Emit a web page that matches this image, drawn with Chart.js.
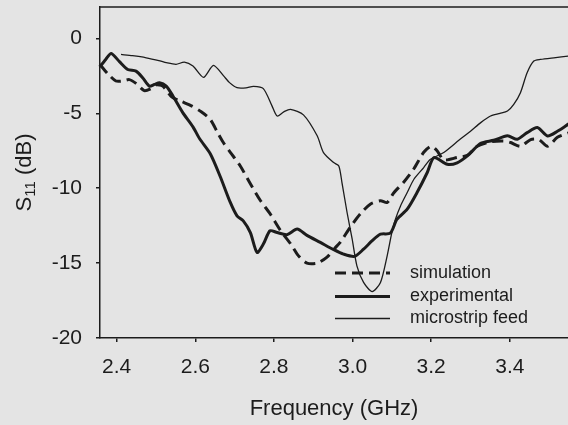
<!DOCTYPE html>
<html>
<head>
<meta charset="utf-8">
<script src="https://cdn.jsdelivr.net/npm/chart.js@4.4.1/dist/chart.umd.min.js"></script>
<style>
  html, body { margin: 0; padding: 0; background: #e4e4e4; }
  #wrap { width: 568px; height: 425px; position: relative; }
</style>
</head>
<body>
<div id="wrap"><canvas id="c" width="568" height="425"></canvas></div>
<script>
// ---- data ----
const seriesNames = ['simulation', 'experimental', 'microstrip feed'];
const xTickValues = [2.4, 2.6, 2.8, 3.0, 3.2, 3.4];
const yTickValues = [-20, -15, -10, -5, 0];

const freqSim = [2.357, 2.377, 2.398, 2.415, 2.432, 2.449, 2.47, 2.487, 2.5, 2.517, 2.54, 2.562, 2.59, 2.615, 2.638, 2.655, 2.67, 2.689, 2.714, 2.74, 2.765, 2.79, 2.816, 2.842, 2.862, 2.884, 2.91, 2.935, 2.955, 2.969, 2.994, 3.02, 3.045, 3.071, 3.088, 3.105, 3.13, 3.156, 3.181, 3.2, 3.215, 3.232, 3.266, 3.292, 3.317, 3.351, 3.385, 3.402, 3.427, 3.453, 3.474, 3.496, 3.521, 3.55];
const s11Sim  = [-1.73, -2.35, -2.84, -2.84, -2.75, -3.0, -3.48, -3.35, -3.1, -3.18, -3.9, -4.18, -4.5, -4.9, -5.4, -6.2, -6.9, -7.6, -8.5, -9.7, -10.8, -11.7, -12.8, -13.7, -14.5, -15.0, -15.0, -14.6, -14.0, -13.6, -12.6, -11.7, -11.07, -10.84, -10.95, -10.3, -9.6, -8.7, -7.6, -7.2, -7.5, -8.1, -7.95, -7.8, -7.2, -6.9, -6.85, -6.95, -7.2, -6.75, -6.75, -7.2, -6.6, -6.3];

const freqExp = [2.357, 2.372, 2.386, 2.407, 2.428, 2.449, 2.466, 2.483, 2.496, 2.509, 2.526, 2.543, 2.568, 2.594, 2.611, 2.638, 2.663, 2.689, 2.706, 2.722, 2.74, 2.757, 2.773, 2.79, 2.808, 2.833, 2.859, 2.884, 2.918, 2.952, 2.977, 3.005, 3.028, 3.05, 3.071, 3.096, 3.113, 3.139, 3.164, 3.19, 3.207, 3.241, 3.266, 3.292, 3.326, 3.359, 3.394, 3.419, 3.444, 3.47, 3.496, 3.521, 3.55];
const s11Exp  = [-1.9, -1.4, -1.0, -1.55, -2.07, -2.18, -2.62, -3.18, -3.07, -2.95, -3.18, -3.84, -4.95, -5.9, -6.7, -7.7, -9.2, -10.95, -11.84, -12.18, -12.96, -14.29, -13.73, -12.84, -12.96, -13.1, -12.73, -13.15, -13.62, -14.1, -14.4, -14.55, -14.07, -13.5, -13.07, -13.0, -12.07, -11.4, -10.29, -8.95, -7.95, -8.4, -8.3, -7.84, -7.0, -6.8, -6.5, -6.73, -6.29, -5.95, -6.51, -6.2, -5.7];

const freqMs = [2.411, 2.44, 2.475, 2.51, 2.526, 2.551, 2.572, 2.594, 2.621, 2.646, 2.672, 2.687, 2.706, 2.729, 2.748, 2.773, 2.795, 2.808, 2.825, 2.842, 2.875, 2.91, 2.926, 2.952, 2.965, 2.973, 2.986, 2.999, 3.011, 3.028, 3.05, 3.071, 3.088, 3.1, 3.109, 3.122, 3.139, 3.156, 3.181, 3.198, 3.232, 3.275, 3.3, 3.326, 3.351, 3.375, 3.394, 3.41, 3.427, 3.444, 3.461, 3.478, 3.512, 3.55];
const s11Ms  = [-1.07, -1.15, -1.29, -1.5, -1.62, -1.73, -1.58, -1.84, -2.6, -1.8, -2.5, -2.95, -3.29, -3.3, -3.2, -3.35, -4.5, -5.18, -4.9, -4.73, -5.1, -6.5, -7.62, -8.29, -8.51, -9.62, -11.62, -13.4, -15.18, -16.29, -16.9, -16.29, -14.51, -12.95, -12.07, -11.18, -10.29, -9.4, -8.62, -8.07, -7.62, -6.7, -6.2, -5.62, -5.18, -5.0, -4.84, -4.4, -3.62, -2.29, -1.51, -1.4, -1.29, -1.18];

// ---- build ----
const INK = '#1c1c1c';
const FONT = '"Liberation Sans", Arial, sans-serif';
const pts = (xs, ys) => xs.map((x, i) => ({ x: x, y: ys[i] }));

const styles = [
  { borderWidth: 3, borderDash: [11, 6] },
  { borderWidth: 3, borderDash: [] },
  { borderWidth: 1.3, borderDash: [] }
];
const dataSets = [pts(freqSim, s11Sim), pts(freqExp, s11Exp), pts(freqMs, s11Ms)];

const datasets = seriesNames.map((name, i) => ({
  label: name,
  data: dataSets[i],
  borderColor: INK,
  borderWidth: styles[i].borderWidth,
  borderDash: styles[i].borderDash,
  pointRadius: 0,
  tension: 0.25,
  fill: false,
  clip: 2
}));

const bgPlugin = {
  id: 'bg',
  beforeDraw(chart) {
    const ctx = chart.ctx;
    ctx.save();
    ctx.fillStyle = '#e4e4e4';
    ctx.fillRect(0, 0, chart.width, chart.height);
    ctx.restore();
  },
  afterDraw(chart) {
    const { ctx, chartArea } = chart;
    ctx.save();
    // top border
    ctx.strokeStyle = INK;
    ctx.lineWidth = 1.5;
    ctx.beginPath();
    ctx.moveTo(chartArea.left, chartArea.top);
    ctx.lineTo(chartArea.right, chartArea.top);
    ctx.stroke();

    // y-axis title with subscript
    ctx.fillStyle = INK;
    ctx.translate(31, (chartArea.top + chartArea.bottom) / 2);
    ctx.rotate(-Math.PI / 2);
    ctx.textBaseline = 'alphabetic';
    const big = '22px ' + FONT;
    const small = '15px ' + FONT;
    ctx.font = big;
    const wS = ctx.measureText('S').width;
    const wRest = ctx.measureText(' (dB)').width;
    ctx.font = small;
    const wSub = ctx.measureText('11').width;
    const x0 = -(wS + wSub + wRest) / 2;
    ctx.font = big;
    ctx.fillText('S', x0, 0);
    ctx.font = small;
    ctx.fillText('11', x0 + wS, 4);
    ctx.font = big;
    ctx.fillText(' (dB)', x0 + wS + wSub, 0);
    ctx.restore();

    // legend
    ctx.save();
    const rowsY = [273, 296.5, 318.5];
    const lx0 = chartArea.right - 233, lx1 = chartArea.right - 178, tx = chartArea.right - 158;
    chart.data.datasets.forEach((ds, i) => {
      ctx.strokeStyle = ds.borderColor;
      ctx.lineWidth = ds.borderWidth;
      ctx.setLineDash(ds.borderDash || []);
      ctx.beginPath();
      ctx.moveTo(lx0, rowsY[i]);
      ctx.lineTo(lx1, rowsY[i]);
      ctx.stroke();
      ctx.setLineDash([]);
      ctx.fillStyle = INK;
      ctx.font = '18px ' + FONT;
      ctx.textBaseline = 'middle';
      ctx.textAlign = 'left';
      ctx.fillText(ds.label, tx, rowsY[i]);
    });
    ctx.restore();
  }
};

new Chart(document.getElementById('c'), {
  type: 'line',
  data: { datasets: datasets },
  plugins: [bgPlugin],
  options: {
    responsive: false,
    animation: false,
    devicePixelRatio: 1,
    layout: { padding: { top: 7, right: 0, left: 0, bottom: 0 } },
    plugins: { legend: { display: false }, tooltip: { enabled: false } },
    scales: {
      x: {
        type: 'linear',
        min: 2.3575,
        max: 3.548,
        afterBuildTicks(scale) { scale.ticks = xTickValues.map(v => ({ value: v })); },
        afterFit(scale) { scale.height = 87; scale.paddingLeft = 0; scale.paddingRight = 0; },
        ticks: {
          callback: v => Number(v).toFixed(1),
          color: INK,
          font: { family: FONT, size: 21 },
          padding: 13,
          maxRotation: 0,
          autoSkip: false
        },
        grid: { drawOnChartArea: false, drawTicks: true, tickLength: 4, color: INK, lineWidth: 1.5 },
        border: { display: true, color: INK, width: 1.5 },
        title: {
          display: true,
          text: 'Frequency (GHz)',
          color: INK,
          font: { family: FONT, size: 22 },
          padding: { top: 0, bottom: 3 }
        }
      },
      y: {
        type: 'linear',
        min: -20,
        max: 2.1,
        afterBuildTicks(scale) { scale.ticks = yTickValues.map(v => ({ value: v })); },
        afterFit(scale) { scale.width = 100; scale.paddingTop = 0; scale.paddingBottom = 0; },
        ticks: {
          callback: v => String(v),
          color: INK,
          font: { family: FONT, size: 21 },
          padding: 14,
          autoSkip: false
        },
        grid: { drawOnChartArea: false, drawTicks: true, tickLength: 4, color: INK, lineWidth: 1.5 },
        border: { display: true, color: INK, width: 1.5 }
      }
    }
  }
});
</script>
</body>
</html>
